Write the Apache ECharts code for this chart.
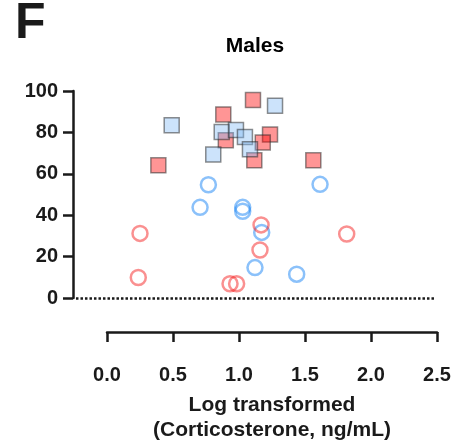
<!DOCTYPE html>
<html>
<head>
<meta charset="utf-8">
<script src="https://cdn.jsdelivr.net/npm/echarts@6/dist/echarts.min.js"></script>
<style>
html,body{margin:0;padding:0;background:#fff;}
#chart{width:458px;height:447px;}
</style>
</head>
<body>
<div id="chart"></div>
<script>
// ---- data ----
var panelLabel = 'F';
var chartTitle = 'Males';
var xAxisTitle = 'Log transformed\n(Corticosterone, ng/mL)';
var xTicks = [0, 0.5, 1.0, 1.5, 2.0, 2.5];
var yTicks = [0, 20, 40, 60, 80, 100];

var redSquaresX = [1.106, 0.881, 0.900, 1.235, 1.180, 1.116, 0.389, 1.563];
var redSquaresY = [95.6, 88.7, 76.2, 79.0, 75.1, 66.5, 64.1, 66.5];
var blueSquaresX = [1.273, 0.490, 0.869, 0.977, 1.045, 1.083, 0.805];
var blueSquaresY = [92.9, 83.5, 80.2, 81.1, 77.8, 71.8, 69.3];
var blueCirclesX = [0.768, 0.705, 1.028, 1.028, 1.121, 1.614, 1.172, 1.437];
var blueCirclesY = [54.7, 43.8, 43.8, 41.9, 14.7, 54.9, 31.7, 11.5];
var redCirclesX = [0.250, 0.237, 0.932, 0.982, 1.167, 1.159, 1.816];
var redCirclesY = [31.2, 9.9, 6.9, 6.9, 35.3, 23.2, 30.9];

function pairs(xs, ys) { return xs.map(function (x, i) { return [x, ys[i]]; }); }

var FONT = '"Liberation Sans", Arial, Helvetica, sans-serif';
var INK = '#1a1a1a';

var chart = echarts.init(document.getElementById('chart'), null, { renderer: 'canvas' });

var option = {
  backgroundColor: '#ffffff',
  animation: false,
  graphic: [
    { type: 'text', x: 15, y: 24, style: { text: panelLabel, fill: INK, font: 'bold 50px ' + FONT, textAlign: 'left', textVerticalAlign: 'middle' } },
    { type: 'text', x: 255, y: 46, style: { text: chartTitle, fill: '#000', font: 'bold 21px ' + FONT, textAlign: 'center', textVerticalAlign: 'middle' } }
  ],
  grid: [
    { left: 73, right: 21, top: 91, bottom: 149 },
    { left: 107, right: 21, top: 300, bottom: 115 }
  ],
  xAxis: [
    { gridIndex: 0, type: 'value', min: -34 / 132, max: xTicks[xTicks.length - 1], show: false, splitLine: { show: false } },
    {
      gridIndex: 1, type: 'value', position: 'bottom',
      min: xTicks[0], max: xTicks[xTicks.length - 1], interval: 0.5,
      axisLine: { show: true, onZero: false, lineStyle: { color: INK, width: 2.5 } },
      axisTick: { show: true, inside: false, length: 10, lineStyle: { color: INK, width: 2.5 } },
      axisLabel: { show: true, margin: 33, color: INK, fontSize: 20, fontWeight: 'bold', fontFamily: FONT,
        formatter: function (v) { return v.toFixed(1); } },
      splitLine: { show: false },
      name: xAxisTitle, nameLocation: 'middle', nameGap: 61,
      nameTextStyle: { color: INK, fontSize: 21, fontWeight: 'bold', fontFamily: FONT, lineHeight: 25 }
    }
  ],
  yAxis: [
    {
      gridIndex: 0, type: 'value', min: yTicks[0], max: yTicks[yTicks.length - 1], interval: 20,
      axisLine: { show: true, onZero: false, lineStyle: { color: INK, width: 2.5 } },
      axisTick: { show: true, inside: false, length: 10, lineStyle: { color: INK, width: 2.5 } },
      axisLabel: { show: true, margin: 15, color: INK, fontSize: 20, fontWeight: 'bold', fontFamily: FONT },
      splitLine: { show: false }
    },
    { gridIndex: 1, type: 'value', show: false, min: 0, max: 1 }
  ],
  series: [
    {
      name: 'Blue circles', type: 'scatter', xAxisIndex: 0, yAxisIndex: 0,
      symbol: 'circle', symbolSize: 15,
      itemStyle: { color: 'rgba(255,255,255,0)', borderColor: 'rgba(20,130,245,0.62)', borderWidth: 2.5 },
      data: pairs(blueCirclesX, blueCirclesY),
      markLine: {
        silent: true, symbol: ['none', 'none'], label: { show: false },
        lineStyle: { color: INK, width: 2.5, type: [2.5, 2] },
        data: [[{ coord: [-0.235, 0] }, { coord: [2.49, 0] }]]
      }
    },
    {
      name: 'Red circles', type: 'scatter', xAxisIndex: 0, yAxisIndex: 0,
      symbol: 'circle', symbolSize: 15,
      itemStyle: { color: 'rgba(255,255,255,0)', borderColor: 'rgba(245,30,30,0.62)', borderWidth: 2.5 },
      data: pairs(redCirclesX, redCirclesY)
    },
    {
      name: 'Red squares', type: 'scatter', xAxisIndex: 0, yAxisIndex: 0,
      symbol: 'rect', symbolSize: 15,
      itemStyle: { color: 'rgba(255,0,0,0.52)', borderColor: 'rgba(40,40,40,0.65)', borderWidth: 1.5 },
      data: pairs(redSquaresX, redSquaresY)
    },
    {
      name: 'Blue squares', type: 'scatter', xAxisIndex: 0, yAxisIndex: 0,
      symbol: 'rect', symbolSize: 15,
      itemStyle: { color: 'rgba(128,184,245,0.5)', borderColor: 'rgba(40,40,40,0.65)', borderWidth: 1.5 },
      data: pairs(blueSquaresX, blueSquaresY)
    }
  ]
};
chart.setOption(option);
</script>
</body>
</html>
